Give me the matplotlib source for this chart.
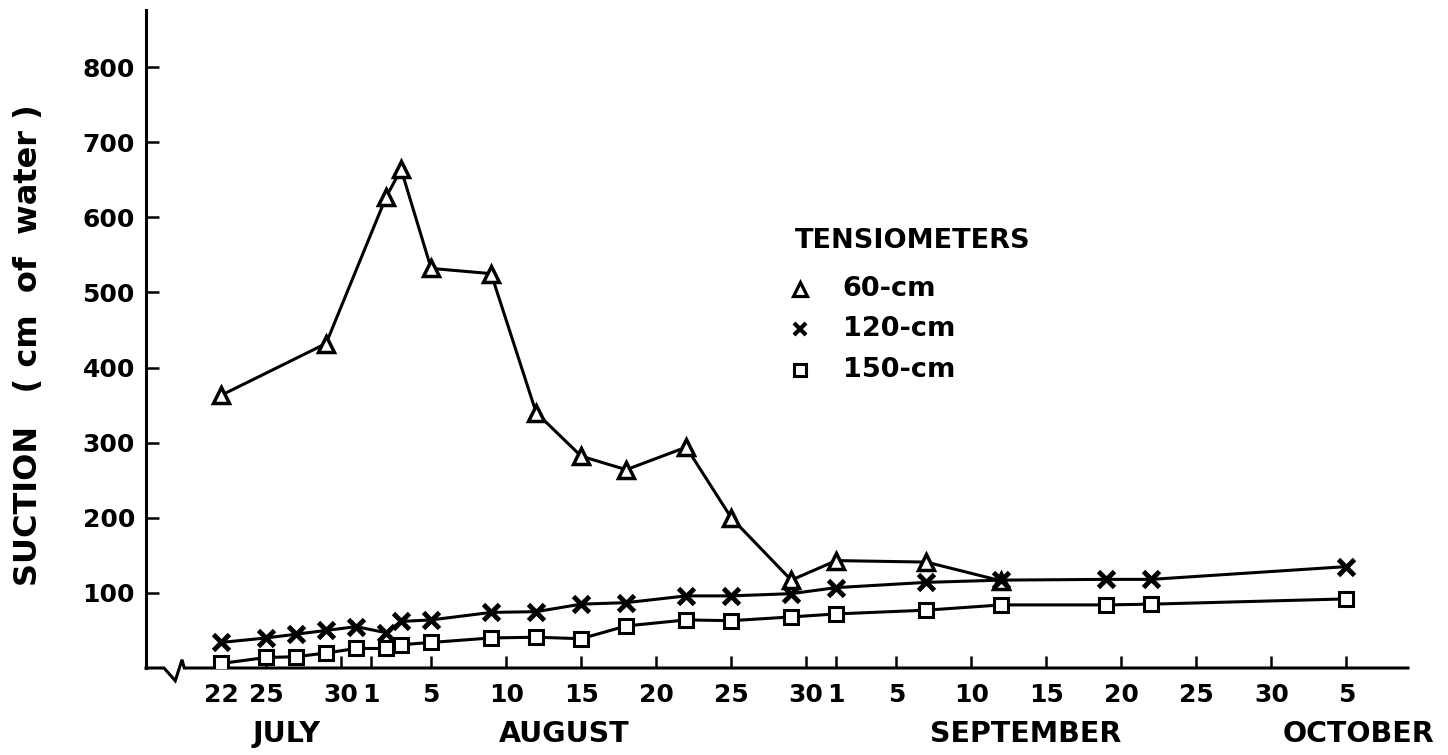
import matplotlib
matplotlib.use("Agg")
import matplotlib.pyplot as plt
import pandas as pd

# ---- data ----
dates_60 = ["07-22", "07-29", "08-02", "08-03", "08-05", "08-09", "08-12", "08-15",
            "08-18", "08-22", "08-25", "08-29", "09-01", "09-07", "09-12"]
suction_60 = [363, 432, 627, 664, 532, 525, 340, 282, 264, 294, 200, 117, 143, 141, 116]

dates_deep = ["07-22", "07-25", "07-27", "07-29", "07-31", "08-02", "08-03", "08-05",
              "08-09", "08-12", "08-15", "08-18", "08-22", "08-25", "08-29", "09-01",
              "09-07", "09-12", "09-19", "09-22", "10-05"]
suction_120 = [34, 40, 45, 50, 55, 47, 62, 64, 74, 75, 85, 87, 96, 96, 99, 107,
               114, 117, 118, 118, 135]
suction_150 = [6, 14, 15, 20, 26, 26, 31, 34, 40, 41, 39, 56, 64, 63, 68, 72,
               77, 84, 84, 85, 92]

tick_dates = ["07-22", "07-25", "07-30", "08-01", "08-05", "08-10", "08-15", "08-20",
              "08-25", "08-30", "09-01", "09-05", "09-10", "09-15", "09-20", "09-25",
              "09-30", "10-05"]
tick_labels = ["22", "25", "30", "1", "5", "10", "15", "20", "25", "30", "1", "5",
               "10", "15", "20", "25", "30", "5"]
month_names = ["JULY", "AUGUST", "SEPTEMBER", "OCTOBER"]
month_label_dates = ["07-26.4", "08-13.9", "09-13.6", "10-05.8"]
y_ticks = [100, 200, 300, 400, 500, 600, 700, 800]

BASE = pd.Timestamp("1971-07-01")


def to_day(s):
    parts = s.split("-")
    md, frac = parts[1], 0.0
    if "." in md:
        md, f = md.split(".")
        frac = float("0." + f)
    d = pd.Timestamp(f"1971-{parts[0]}-{md}")
    return (d - BASE).days + 1 + frac


x60 = [to_day(s) for s in dates_60]
xdeep = [to_day(s) for s in dates_deep]
xt = [to_day(s) for s in tick_dates]
xm = [to_day(s) for s in month_label_dates]

plt.rcParams["font.family"] = ["DejaVu Sans"]

fig = plt.figure(figsize=(14.48, 7.55), dpi=100)
ax = fig.add_axes([146 / 1448, 87 / 755, 1262 / 1448, 658 / 755])

lw = 2.2
ax.plot(x60, suction_60, color="black", lw=lw, marker="^", ms=12,
        mfc="white", mec="black", mew=2.5, zorder=3)
ax.plot(xdeep, suction_120, color="black", lw=lw, marker="x", ms=11,
        mec="black", mew=3.5, zorder=3)
ax.plot(xdeep, suction_150, color="black", lw=lw, marker="s", ms=10,
        mfc="white", mec="black", mew=2.2, zorder=3)

x0, x1 = 17.0, 101.1
ax.set_xlim(x0, x1)
ax.set_ylim(0, 876)

for s in ["top", "right", "bottom"]:
    ax.spines[s].set_visible(False)
ax.spines["left"].set_linewidth(2.2)

# bottom axis line with break symbol
ax.plot([x0, 18.2, 18.95, 19.4, 19.55, x1], [0, 0, -17, 11, 0, 0],
        color="black", lw=2.2, clip_on=False, zorder=2, solid_joinstyle="miter")

ax.set_yticks(y_ticks)
ax.set_yticklabels([str(v) for v in y_ticks], fontsize=18, fontweight="bold")
ax.set_xticks(xt)
ax.set_xticklabels(tick_labels, fontsize=18, fontweight="bold")
ax.tick_params(axis="both", direction="in", length=9, width=1.8)
ax.tick_params(axis="y", pad=8)
ax.tick_params(axis="x", pad=11)

for xv, name in zip(xm, month_names):
    ax.text(xv, -88, name, ha="center", va="center", fontsize=20.5,
            fontweight="bold", clip_on=False)

ax.set_ylabel("SUCTION   ( cm  of  water )", fontsize=23, fontweight="bold")
ax.yaxis.set_label_coords(-0.081, 0.49)

# legend drawn manually
ax.text(0.514, 0.649, "TENSIOMETERS", transform=ax.transAxes, fontsize=19.5,
        fontweight="bold", va="center", ha="left")
leg_markers = [("^", 10, 2.3), ("x", 8, 3.0), ("s", 9, 2.2)]
leg_labels = ["60-cm", "120-cm", "150-cm"]
leg_y = [0.576, 0.515, 0.453]
for (m, ms, mew), lab, yy in zip(leg_markers, leg_labels, leg_y):
    ax.plot([0.518], [yy], transform=ax.transAxes, marker=m, ms=ms,
            mfc="white", mec="black", mew=mew, ls="none", clip_on=False)
    ax.text(0.552, yy, lab, transform=ax.transAxes, fontsize=19.5,
            fontweight="bold", va="center", ha="left")

fig.savefig("out.png", dpi=100)
